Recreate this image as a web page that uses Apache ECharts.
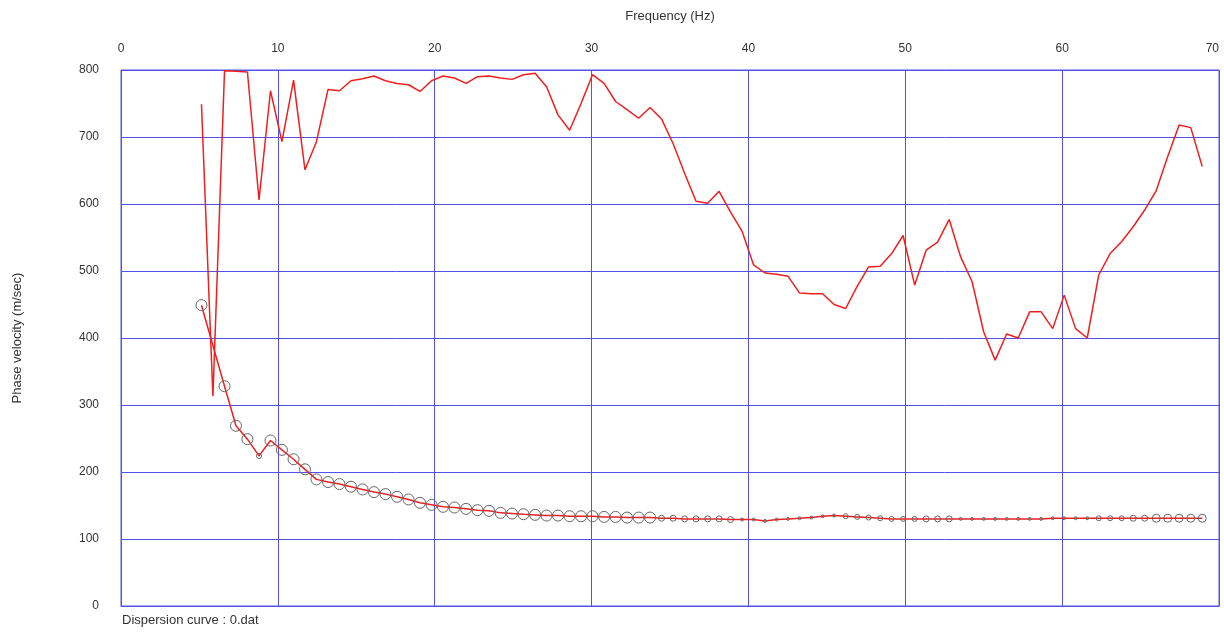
<!DOCTYPE html>
<html>
<head>
<meta charset="utf-8">
<script src="https://cdn.jsdelivr.net/npm/echarts@6/dist/echarts.min.js"></script>
<style>
  html, body { margin: 0; padding: 0; background: #fff; }
  #chart { width: 1224px; height: 634px; }
</style>
</head>
<body>
<div id="chart"></div>
<script>
// frequencies (Hz) shared by both curves
var freq = [5.13, 5.86, 6.60, 7.33, 8.06, 8.80, 9.53, 10.26, 11.00, 11.73,
  12.46, 13.20, 13.93, 14.66, 15.40, 16.13, 16.86, 17.60, 18.33, 19.06,
  19.80, 20.53, 21.26, 22.00, 22.73, 23.46, 24.20, 24.93, 25.66, 26.40,
  27.13, 27.86, 28.60, 29.33, 30.06, 30.80, 31.53, 32.26, 33.00, 33.73,
  34.46, 35.20, 35.93, 36.66, 37.40, 38.13, 38.86, 39.60, 40.33, 41.06,
  41.80, 42.53, 43.26, 44.00, 44.73, 45.46, 46.20, 46.93, 47.66, 48.40,
  49.13, 49.86, 50.60, 51.33, 52.06, 52.80, 53.53, 54.26, 55.00, 55.73,
  56.46, 57.20, 57.93, 58.66, 59.40, 60.13, 60.86, 61.60, 62.33, 63.06,
  63.80, 64.53, 65.26, 66.00, 66.73, 67.46, 68.20, 68.93];

// upper curve (phase velocity, m/sec)
var upperVel = [749, 313, 799, 798, 797, 606, 769, 693, 785, 651,
  693, 771, 769, 784, 787, 791, 784, 780, 778, 768,
  784, 791, 788, 780, 790, 791, 788, 786, 793, 795,
  775, 733, 710, 750, 793, 780, 753, 741, 728, 744,
  727, 690, 646, 604, 601, 619, 588, 559, 509, 497,
  495, 492, 467, 466, 466, 450, 444, 477, 506, 507,
  526, 553, 479, 531, 543, 577, 521, 484, 409, 367,
  406, 400, 439, 439, 414, 464, 414, 400, 494, 526,
  544, 566, 591, 620, 671, 718, 714, 656];

// picked dispersion curve (with circles)
var pickedVel = [449, null, 328, 269, 249, 224, 247, 233, 219, 204,
  189, 185, 182, 178, 174, 170, 167, 163, 159, 154,
  151, 148, 147, 145, 143, 142, 139, 138, 137, 136,
  135, 135, 134, 134, 134, 133, 133, 132, 132, 132,
  131, 131, 130, 130, 130, 130, 129, 129, 129, 127,
  129, 130, 131, 132, 134, 135, 134, 133, 132, 131,
  130, 130, 130, 130, 130, 130, 130, 130, 130, 130,
  130, 130, 130, 130, 131, 131, 131, 131, 131, 131,
  131, 131, 131, 131, 131, 131, 131, 131];

var xTicks = [0, 10, 20, 30, 40, 50, 60, 70];
var yTicks = [0, 100, 200, 300, 400, 500, 600, 700, 800];

var upperData = freq.map(function (f, i) { return [f, upperVel[i]]; });
var pickedData = freq.map(function (f, i) { return [f, pickedVel[i]]; });

var gridBlue = '#5252ea';
var font = 'Liberation Sans, Arial, sans-serif';

function circleSize(value) {
  var f = value[0];
  if (f > 8.5 && f < 9.0) return 5;
  if (f < 34) return 11;
  if (f < 39.5) return 6;
  if (f < 46) return 3;
  if (f < 51) return 5;
  if (f < 53.2) return 6;
  if (f < 62) return 3;
  if (f < 64) return 5;
  if (f < 66) return 6;
  return 8;
}

var chart = echarts.init(document.getElementById('chart'));
chart.setOption({
  animation: false,
  backgroundColor: '#fff',
  textStyle: { fontFamily: font },
  grid: {
    left: 121, right: 5, top: 70, bottom: 28,
    outerBoundsMode: 'none',
    containLabel: false,
    show: true, borderColor: gridBlue, borderWidth: 1
  },
  xAxis: {
    type: 'value',
    position: 'top',
    min: xTicks[0], max: xTicks[xTicks.length - 1], interval: 10,
    name: 'Frequency (Hz)',
    nameLocation: 'middle',
    nameGap: 47,
    nameTextStyle: { color: '#333', fontSize: 13 },
    axisLine: { lineStyle: { color: gridBlue } },
    axisTick: { show: false },
    axisLabel: { color: '#333', fontSize: 12, margin: 15, alignMaxLabel: 'right' },
    splitLine: { show: true, lineStyle: { color: gridBlue, width: 1 } }
  },
  yAxis: {
    type: 'value',
    min: yTicks[0], max: yTicks[yTicks.length - 1], interval: 100,
    name: 'Phase velocity (m/sec)',
    nameLocation: 'middle',
    nameGap: 97,
    nameTextStyle: { color: '#333', fontSize: 13 },
    axisLine: { lineStyle: { color: gridBlue } },
    axisTick: { show: false },
    axisLabel: { color: '#333', fontSize: 12, margin: 22 },
    splitLine: { show: true, lineStyle: { color: gridBlue, width: 1 } }
  },
  graphic: [{
    type: 'text',
    left: 122, top: 614,
    style: { text: 'Dispersion curve : 0.dat', fill: '#333', fontSize: 13, fontFamily: font }
  }],
  series: [
    {
      type: 'line',
      data: upperData,
      showSymbol: false,
      lineStyle: { color: '#f01e1e', width: 1.5 },
      z: 3
    },
    {
      type: 'line',
      data: pickedData,
      connectNulls: true,
      symbol: 'circle',
      symbolSize: circleSize,
      itemStyle: { color: 'rgba(0,0,0,0)', borderColor: '#666', borderWidth: 1 },
      lineStyle: { color: '#f01e1e', width: 1.5 },
      z: 4
    }
  ]
});
</script>
</body>
</html>
